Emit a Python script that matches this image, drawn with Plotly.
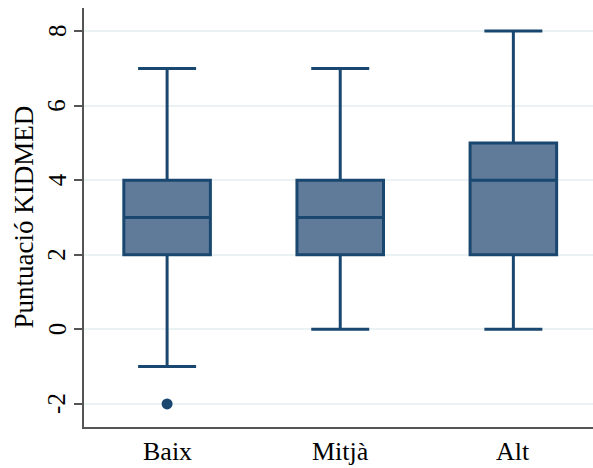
import plotly.graph_objects as go

# KIDMED score summary by adherence group
groups = ["Baix", "Mitjà", "Alt"]
q1 = [2, 2, 2]
median = [3, 3, 4]
q3 = [4, 4, 5]
lower_whisker = [-1, 0, 0]
upper_whisker = [7, 7, 8]

outlier_groups = ["Baix"]
outlier_values = [-2]

y_ticks = [-2, 0, 2, 4, 6, 8]
y_title = "Puntuació KIDMED"

LINE = "#1a476f"
FILL = "#5f7b99"
AXIS = "#555555"
FONT = "Liberation Serif"

fig = go.Figure()
fig.add_trace(go.Box(
    x=groups,
    q1=q1, median=median, q3=q3,
    lowerfence=lower_whisker, upperfence=upper_whisker,
    boxpoints=False,
    fillcolor=FILL,
    line=dict(color=LINE, width=3),
    width=0.5,
    whiskerwidth=0.67,
    showlegend=False,
    hoverinfo="skip",
))
fig.add_trace(go.Scatter(
    x=outlier_groups, y=outlier_values,
    mode="markers",
    marker=dict(color=LINE, size=11),
    showlegend=False,
    hoverinfo="skip",
))

# Tick labels and axis title written as serif text annotations
annotations = []
for g in groups:
    annotations.append(dict(
        x=g, xref="x", y=0, yref="paper",
        text=g, showarrow=False,
        xanchor="center", yanchor="top", yshift=-8,
        font=dict(family=FONT, size=26, color="black"),
    ))
for v in y_ticks:
    annotations.append(dict(
        x=0, xref="paper", y=v, yref="y",
        text=str(v), showarrow=False, textangle=-90,
        xanchor="center", yanchor="middle", xshift=-27,
        font=dict(family=FONT, size=25, color="black"),
    ))
annotations.append(dict(
    x=0, xref="paper", y=0.5, yref="paper",
    text=y_title, showarrow=False, textangle=-90,
    xanchor="center", yanchor="middle", xshift=-61,
    font=dict(family=FONT, size=27, color="black"),
))

fig.update_layout(
    template="none",
    width=593, height=468,
    margin=dict(l=84, r=0, t=8, b=41, autoexpand=False),
    paper_bgcolor="white",
    plot_bgcolor="white",
    font=dict(family=FONT, color="black"),
    annotations=annotations,
    xaxis=dict(
        type="category",
        range=[-0.48, 2.46],
        showline=True, linecolor=AXIS, linewidth=2,
        ticks="", showgrid=False, zeroline=False,
        showticklabels=False,
        automargin=False,
    ),
    yaxis=dict(
        range=[-2.62, 8.62],
        tickmode="array",
        tickvals=y_ticks,
        showline=True, linecolor=AXIS, linewidth=2,
        ticks="outside", ticklen=8, tickcolor=AXIS, tickwidth=1.5,
        showgrid=True, gridcolor="#eaf2f3", gridwidth=1.5,
        zeroline=False,
        showticklabels=False,
        automargin=False,
    ),
)

fig.write_html("out.html")
